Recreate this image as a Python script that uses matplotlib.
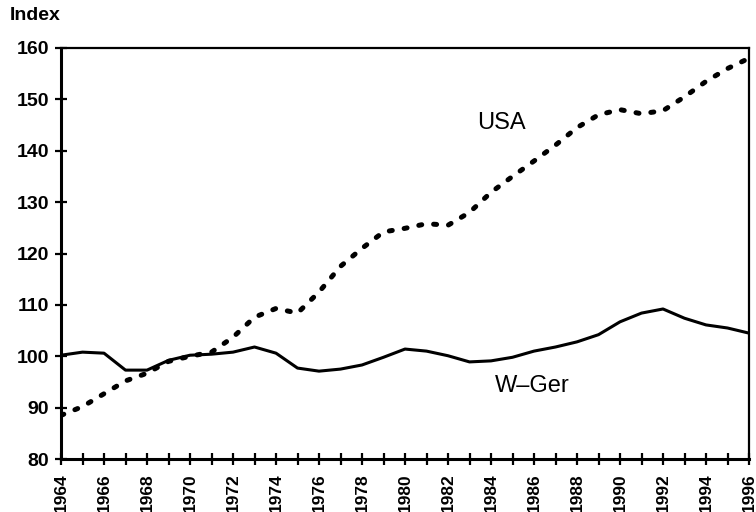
import matplotlib
matplotlib.use("Agg")
import matplotlib.pyplot as plt

years = list(range(1964, 1997))
usa = [88.5, 90.2, 92.7, 95.2, 96.7, 99.0, 100.0, 100.8, 103.7, 107.6, 109.3,
       108.4, 112.5, 117.5, 121.0, 124.2, 124.9, 125.8, 125.5, 128.0, 131.9,
       135.0, 138.0, 141.1, 144.5, 147.0, 148.0, 147.2, 147.8, 150.5, 153.5,
       156.0, 158.0]
wger = [100.2, 100.8, 100.6, 97.3, 97.3, 99.2, 100.2, 100.4, 100.8, 101.8,
        100.6, 97.7, 97.1, 97.5, 98.3, 99.8, 101.4, 101.0, 100.1, 98.9, 99.1,
        99.8, 101.0, 101.8, 102.8, 104.2, 106.7, 108.4, 109.2, 107.4, 106.1,
        105.5, 104.5]
yticks = [80, 90, 100, 110, 120, 130, 140, 150, 160]
xlabel_years = list(range(1964, 1997, 2))

plt.rcParams['font.family'] = ['Liberation Sans', 'DejaVu Sans']

fig = plt.figure(figsize=(7.56, 5.12), dpi=100)
ax = fig.add_axes([61/756, 53/512, 688/756, 411/512])

ax.plot(years, wger, color='black', lw=2.2, solid_joinstyle='round')
ax.plot(years, usa, color='black', lw=3.6, dashes=[0.6, 2.4],
        dash_capstyle='round')

ax.set_xlim(1964, 1996)
ax.set_ylim(80, 160)
ax.set_yticks(yticks)
ax.set_xticks(years)
ax.set_xticklabels([str(y) if y in xlabel_years else '' for y in years],
                   rotation=90, fontsize=12.5, fontweight='bold', va='top')
ax.set_yticklabels([str(v) for v in yticks], fontsize=14, fontweight='bold')

for s in ['left', 'bottom']:
    ax.spines[s].set_linewidth(2.2)
for s in ['top', 'right']:
    ax.spines[s].set_linewidth(1.6)

ax.tick_params(axis='both', direction='inout', length=9, width=1.6,
               color='black')
ax.tick_params(axis='y', pad=4)
ax.tick_params(axis='x', pad=6)

ax.text(1984.5, 145.4, 'USA', fontsize=17, ha='center', va='center')
ax.text(1985.9, 94.2, 'W\u2013Ger', fontsize=17, ha='center', va='center')

fig.text(10/756, 1 - 16/512, 'Index', fontsize=14, fontweight='bold',
         ha='left', va='center')

fig.savefig('out.png', dpi=100)
